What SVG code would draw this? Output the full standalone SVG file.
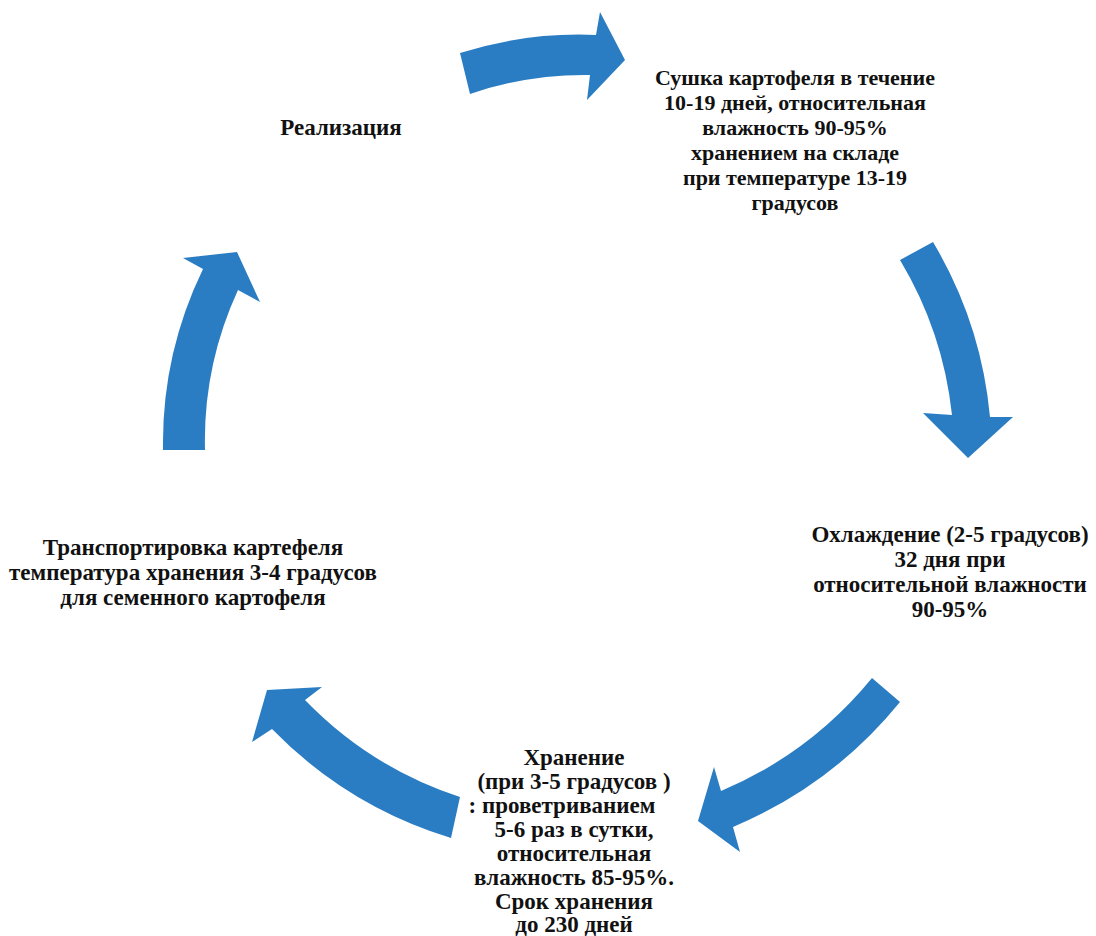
<svg xmlns="http://www.w3.org/2000/svg" width="1096" height="936" viewBox="0 0 1096 936" xml:space="preserve">
<style>
.bg{fill:#ffffff}
.arr{fill:#2A7DC3;stroke:none}
.t{font-family:"Liberation Serif","Times New Roman",serif;font-weight:bold;font-size:23px;fill:#111111;text-anchor:middle}
.s{font-size:22px}
</style>
<rect class="bg" x="0" y="0" width="1096" height="936"/>
<g id="connectors">
<path id="arrow-top" class="arr" d="M460,53 A394,394 0 0 1 596,35 L600,12 L625,60 L587,100 L590,75 A354,354 0 0 0 470,94 Z"/>
<path id="arrow-right" class="arr" d="M900,260 L933,242 A417,417 0 0 1 990,417 L1013,417 L968,458 L923,413 L952,415 A380,380 0 0 0 900,260 Z"/>
<path id="arrow-bottom-right" class="arr" d="M872,678 L900,702 A430,430 0 0 1 733,827 L740,852 L698,821 L714,767 L721,791 A392,392 0 0 0 872,678 Z"/>
<path id="arrow-bottom-left" class="arr" d="M460,797 A380,380 0 0 1 305,700 L322,687 L267,690 L252,742 L272,729 A422,422 0 0 0 451,838 Z"/>
<path id="arrow-left" class="arr" d="M163,450 A400,400 0 0 1 203,269 L183,258 L237,252 L260,302 L238,290 A360,360 0 0 0 205,450 Z"/>
</g>
<g id="node-realization">
<text class="t" x="341" y="135">Реализация</text>
</g>
<g id="node-drying">
<text class="t s" x="795" y="85">Сушка картофеля в течение</text>
<text class="t s" x="795" y="110">10-19 дней, относительная</text>
<text class="t s" x="795" y="135">влажность 90-95%</text>
<text class="t s" x="795" y="160">хранением на складе</text>
<text class="t s" x="795" y="185">при температуре 13-19</text>
<text class="t s" x="795" y="210">градусов</text>
</g>
<g id="node-cooling">
<text class="t" x="950" y="542">Охлаждение (2-5 градусов)</text>
<text class="t" x="950" y="567">32 дня при</text>
<text class="t" x="950" y="592">относительной влажности</text>
<text class="t" x="950" y="617">90-95%</text>
</g>
<g id="node-storage">
<text class="t" x="574" y="765">Хранение</text>
<text class="t" x="574" y="789">(при  3-5 градусов )</text>
<text class="t" x="562" y="813">:  проветриванием</text>
<text class="t" x="574" y="837">5-6 раз в сутки,</text>
<text class="t" x="574" y="861">относительная</text>
<text class="t" x="574" y="885">влажность 85-95%.</text>
<text class="t" x="574" y="909">Срок хранения</text>
<text class="t" x="574" y="932">до 230 дней</text>
</g>
<g id="node-transport">
<text class="t" x="193" y="555">Транспортировка  картефеля</text>
<text class="t" x="193" y="580">температура хранения 3-4 градусов</text>
<text class="t" x="193" y="605">для  семенного картофеля</text>
</g>
</svg>
